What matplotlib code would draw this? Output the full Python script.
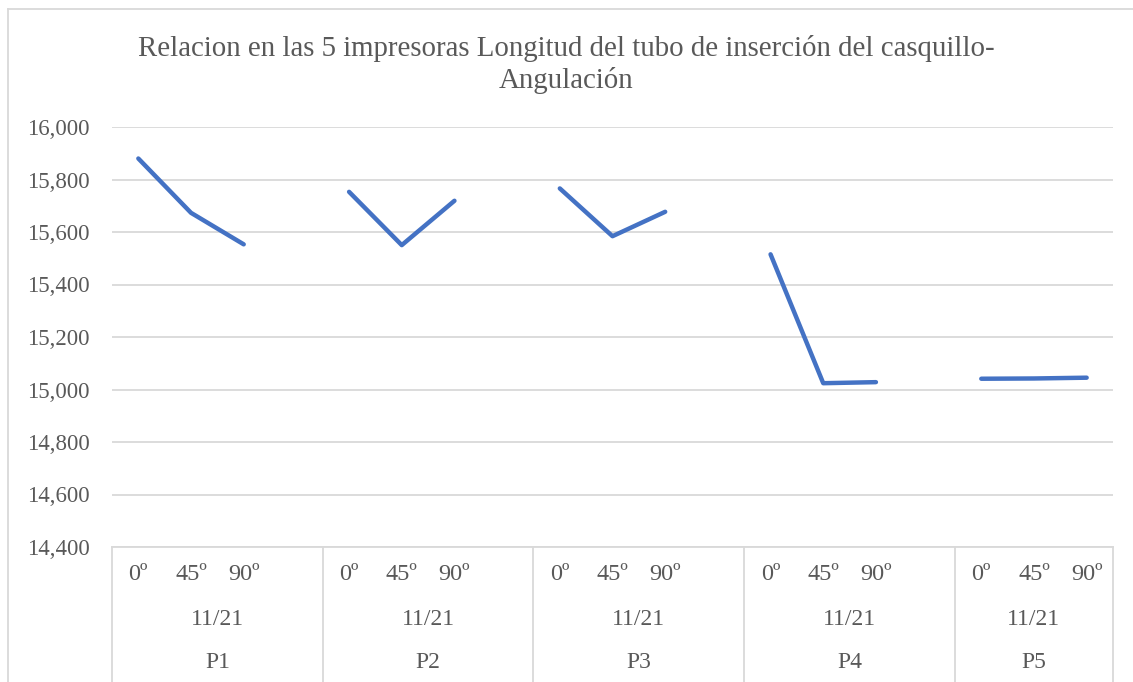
import numpy as np
import matplotlib.pyplot as plt
from matplotlib.lines import Line2D

# printers, angles and measured tube length
printers = ["P1", "P2", "P3", "P4", "P5"]
angles = ["0º", "45º", "90º"]
date_label = "11/21"
p1 = [15880, 15673, 15553]
p2 = [15753, 15550, 15719]
p3 = [15766, 15584, 15677]
p4 = [15515, 15024, 15028]
p5 = [15041, 15042, 15045]
series = [p1, p2, p3, p4, p5]

yticks = [14400, 14600, 14800, 15000, 15200, 15400, 15600, 15800, 16000]

plt.rcParams['font.family'] = ['Liberation Serif', 'DejaVu Serif']
grey = "#595959"
line_grey = "#D9D9D9"

# each printer group takes 4 slots (3 angles + 1 empty) except the last one
x_vals = []
y_vals = []
label_pos = []
group_edges = [-0.5]
pos = 0
for gi, vals in enumerate(series):
    for v in vals:
        x_vals.append(pos)
        y_vals.append(v)
        label_pos.append(pos)
        pos += 1
    if gi < len(series) - 1:
        x_vals.append(pos)
        y_vals.append(np.nan)
        pos += 1
    group_edges.append(pos - 0.5)
n_slots = pos

fig = plt.figure(figsize=(11.33, 6.82), dpi=100)
ax = fig.add_axes([112 / 1133, 1 - 547 / 682, 1001 / 1133, 420 / 682])

ax.plot(x_vals, y_vals, color="#4472C4", linewidth=3.2, solid_capstyle="round",
        solid_joinstyle="round", zorder=3)

ax.set_xlim(-0.5, n_slots - 0.5)
ax.set_ylim(yticks[0], yticks[-1])
ax.set_yticks(yticks)
ax.set_yticklabels([f"{t:,}" for t in yticks])
ax.tick_params(axis="y", length=0, pad=16, labelsize=16.5, labelcolor=grey)
ax.set_xticks([])
ax.grid(axis="y", color=line_grey, linewidth=1.3)
ax.set_axisbelow(True)
for side in ["left", "right", "top"]:
    ax.spines[side].set_visible(False)
ax.spines["bottom"].set_color(line_grey)
ax.spines["bottom"].set_linewidth(1.3)

# multi-level category axis
tr = ax.get_xaxis_transform()
for i, xp in enumerate(label_pos):
    ax.text(xp, -0.066, angles[i % 3], transform=tr, ha="center", va="center",
            fontsize=17.5, color=grey)
for gi, name in enumerate(printers):
    mid = (group_edges[gi] + group_edges[gi + 1]) / 2
    ax.text(mid, -0.172, date_label, transform=tr, ha="center", va="center",
            fontsize=17, color=grey)
    ax.text(mid, -0.275, name, transform=tr, ha="center", va="center",
            fontsize=17, color=grey)
for e in group_edges:
    ax.add_line(Line2D([e, e], [0, -0.33], transform=tr, color=line_grey,
                       linewidth=1.3, clip_on=False))

fig.text(0.5, 1 - 48 / 682, "Relacion en las 5 impresoras Longitud del tubo de inserción del casquillo-",
         ha="center", va="center", fontsize=20.8, color=grey)
fig.text(0.5, 1 - 81 / 682, "Angulación", ha="center", va="center",
         fontsize=20.8, color=grey)

# chart area border (left and top)
fig.add_artist(Line2D([8 / 1133, 8 / 1133], [0, 1 - 9 / 682], transform=fig.transFigure,
                      color=line_grey, linewidth=1.3))
fig.add_artist(Line2D([8 / 1133, 1], [1 - 9 / 682, 1 - 9 / 682], transform=fig.transFigure,
                      color=line_grey, linewidth=1.3))

fig.savefig("out.png", dpi=100, facecolor="white")
